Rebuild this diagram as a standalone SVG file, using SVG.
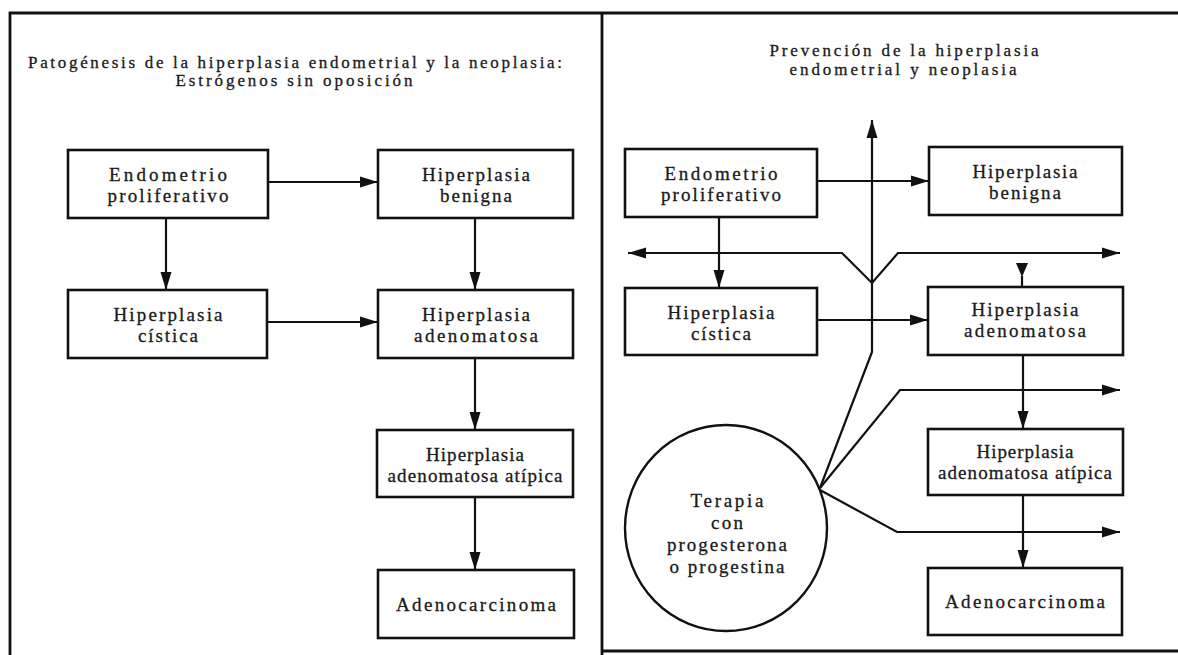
<svg xmlns="http://www.w3.org/2000/svg" width="1178" height="655" viewBox="0 0 1178 655">
<style>
.frame{fill:none;stroke:#111;stroke-width:2.8}
.box{fill:#fff;stroke:#111;stroke-width:2.6}
.circ{fill:#fff;stroke:#111;stroke-width:2.4}
.c{fill:none;stroke:#111;stroke-width:2.2}
.t{font-family:"Liberation Serif",serif;font-size:19px;fill:#1a1a1a;stroke:#1a1a1a;stroke-width:0.3;text-anchor:middle}
.h{font-family:"Liberation Serif",serif;font-size:17px;fill:#1a1a1a;stroke:#1a1a1a;stroke-width:0.3;text-anchor:middle}
</style>
<defs>
<marker id="ah" markerUnits="userSpaceOnUse" markerWidth="20" markerHeight="12" refX="18" refY="6" orient="auto-start-reverse">
<path d="M0,0.5 L18,6 L0,11.5 z" fill="#111"/>
</marker>
</defs>
<rect width="1178" height="655" fill="#fff"/>
<g id="frame">
<path class="frame" d="M10,655 L10,13 L1178,13"/>
<line class="frame" x1="602" y1="13" x2="602" y2="655"/>
<line class="frame" x1="602" y1="651" x2="1178" y2="651"/>
</g>
<g id="titles">
<text class="h" x="295" y="68" textLength="534">Patogénesis de la hiperplasia endometrial y la neoplasia:</text>
<text class="h" x="294" y="86" textLength="237">Estrógenos sin oposición</text>
<text class="h" x="904" y="56" textLength="269">Prevención de la hiperplasia</text>
<text class="h" x="903" y="75" textLength="227">endometrial y neoplasia</text>
</g>
<g id="connectors">
<line class="c" x1="268" y1="182" x2="378" y2="182" marker-end="url(#ah)"/>
<line class="c" x1="166" y1="218" x2="166" y2="290" marker-end="url(#ah)"/>
<line class="c" x1="475" y1="218" x2="475" y2="290" marker-end="url(#ah)"/>
<line class="c" x1="267" y1="322" x2="378" y2="322" marker-end="url(#ah)"/>
<line class="c" x1="475" y1="358" x2="475" y2="430" marker-end="url(#ah)"/>
<line class="c" x1="475" y1="497" x2="475" y2="570" marker-end="url(#ah)"/>
<line class="c" x1="817" y1="181" x2="929" y2="181" marker-end="url(#ah)"/>
<line class="c" x1="719" y1="217" x2="719" y2="288" marker-end="url(#ah)"/>
<line class="c" x1="817" y1="320" x2="928" y2="320" marker-end="url(#ah)"/>
<line class="c" x1="1023" y1="355" x2="1023" y2="429" marker-end="url(#ah)"/>
<line class="c" x1="1023" y1="495" x2="1023" y2="568" marker-end="url(#ah)"/>
<path class="c" d="M628,253 L842,253 L872,283 L898,253 L1120,253" marker-start="url(#ah)" marker-end="url(#ah)"/>
<polygon points="1016,263 1028,263 1022,277" fill="#111"/>
<line class="c" x1="1022" y1="276" x2="1022" y2="287"/>
<path class="c" d="M820,488 L872,352 L872,120" marker-end="url(#ah)"/>
<path class="c" d="M820,488 L900,390 L1120,390" marker-end="url(#ah)"/>
<path class="c" d="M820,490 L897,532 L1120,532" marker-end="url(#ah)"/>
</g>
<g id="l-endometrio"><rect class="box" x="68" y="150" width="200" height="68"/><text class="t" x="168" y="181" textLength="118">Endometrio</text><text class="t" x="168" y="202" textLength="121">proliferativo</text></g>
<g id="l-benigna"><rect class="box" x="378" y="150" width="195" height="68"/><text class="t" x="476" y="181" textLength="108">Hiperplasia</text><text class="t" x="476" y="202" textLength="72">benigna</text></g>
<g id="l-cistica"><rect class="box" x="68" y="290" width="199" height="68"/><text class="t" x="168" y="321" textLength="109">Hiperplasia</text><text class="t" x="168" y="342" textLength="60">cística</text></g>
<g id="l-adenomatosa"><rect class="box" x="378" y="290" width="195" height="68"/><text class="t" x="476" y="321" textLength="108">Hiperplasia</text><text class="t" x="476" y="342" textLength="124">adenomatosa</text></g>
<g id="l-atipica"><rect class="box" x="377" y="430" width="196" height="67"/><text class="t" x="475" y="461" textLength="98">Hiperplasia</text><text class="t" x="475" y="482" textLength="175">adenomatosa atípica</text></g>
<g id="l-adenocarcinoma"><rect class="box" x="378" y="570" width="196" height="68"/><text class="t" x="476" y="611" textLength="160">Adenocarcinoma</text></g>
<g id="r-endometrio"><rect class="box" x="625" y="149" width="192" height="68"/><text class="t" x="721" y="180" textLength="113">Endometrio</text><text class="t" x="721" y="201" textLength="120">proliferativo</text></g>
<g id="r-benigna"><rect class="box" x="929" y="147" width="193" height="68"/><text class="t" x="1025" y="178" textLength="105">Hiperplasia</text><text class="t" x="1025" y="199" textLength="72">benigna</text></g>
<g id="r-cistica"><rect class="box" x="625" y="288" width="192" height="67"/><text class="t" x="721" y="319" textLength="107">Hiperplasia</text><text class="t" x="721" y="340" textLength="60">cística</text></g>
<g id="r-adenomatosa"><rect class="box" x="928" y="287" width="195" height="68"/><text class="t" x="1025" y="316" textLength="107">Hiperplasia</text><text class="t" x="1025" y="337" textLength="122">adenomatosa</text></g>
<g id="r-atipica"><rect class="box" x="928" y="429" width="195" height="66"/><text class="t" x="1025" y="458" textLength="97">Hiperplasia</text><text class="t" x="1025" y="479" textLength="174">adenomatosa atípica</text></g>
<g id="r-adenocarcinoma"><rect class="box" x="928" y="568" width="194" height="67"/><text class="t" x="1025" y="608" textLength="160">Adenocarcinoma</text></g>
<g id="terapia"><ellipse class="circ" cx="726" cy="528" rx="101" ry="103"/><text class="t" x="727" y="507" textLength="73">Terapia</text><text class="t" x="727" y="529" textLength="32">con</text><text class="t" x="727" y="551" textLength="120">progesterona</text><text class="t" x="727" y="573" textLength="115">o progestina</text></g>
</svg>
